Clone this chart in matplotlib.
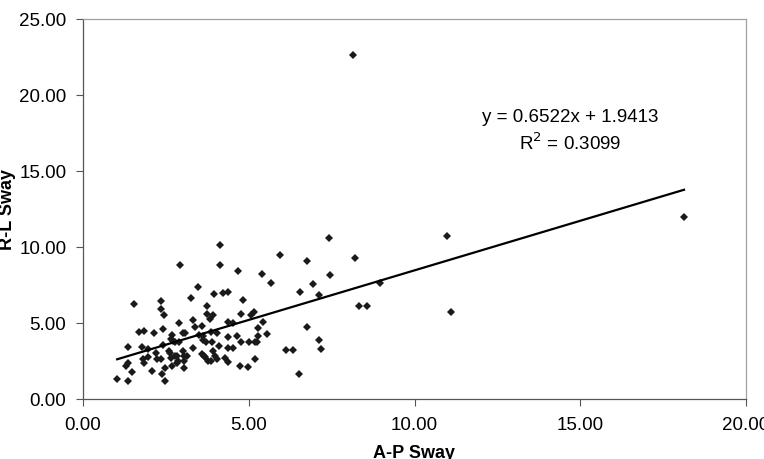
import numpy as np
import matplotlib
matplotlib.use("Agg")
import matplotlib.pyplot as plt

plt.rcParams['font.family'] = ['Liberation Sans', 'DejaVu Sans']

# A-P sway (x) and R-L sway (y)
ap_sway = [1.03, 1.37, 1.47, 1.30, 1.37, 1.37, 1.54, 1.70, 1.85, 1.77,
           1.82, 1.84, 1.97, 2.07, 2.14, 2.20, 2.24, 2.34, 2.35, 2.35,
           2.45, 2.42, 2.42, 2.37, 2.47, 2.48, 2.60, 2.62, 2.68, 2.68,
           2.78, 2.83, 2.89, 2.93, 2.91, 2.83, 3.01, 3.05, 3.05, 3.13,
           3.31, 3.26, 3.33, 3.38, 3.46, 3.51, 3.58, 3.63, 3.65, 3.71,
           3.73, 3.75, 3.83, 3.85, 3.91, 3.93, 3.95, 3.98, 4.03, 4.05,
           4.11, 4.14, 4.14, 4.21, 4.27, 4.36, 4.38, 4.38, 4.38, 4.38,
           4.52, 4.53, 4.64, 4.67, 4.77, 4.77, 4.82, 4.74, 4.99, 5.02,
           5.06, 5.16, 5.18, 5.24, 5.19, 5.27, 5.29, 5.42, 5.39, 5.56,
           5.67, 5.94, 6.11, 6.33, 6.55, 6.53, 6.75, 6.75, 6.95, 7.13,
           7.13, 7.17, 7.43, 7.45, 8.20, 8.32, 8.58, 8.96,
           8.14, 10.99, 11.10, 18.13,
           3.86, 1.97, 3.03, 2.65, 2.72, 2.65, 2.78, 2.86, 3.06, 3.60,
           3.68, 3.78, 3.88, 3.63, 3.07]
rl_sway = [1.32, 1.21, 1.80, 2.15, 2.37, 3.40, 6.25, 4.39, 4.47, 3.40,
           2.63, 2.35, 2.74, 1.86, 4.32, 3.03, 2.63, 2.63, 6.45, 5.92,
           5.55, 4.61, 3.57, 1.62, 2.02, 1.21, 3.18, 3.00, 2.15, 4.21,
           3.77, 2.85, 5.00, 8.82, 3.77, 2.35, 4.34, 2.52, 2.02, 2.85,
           3.33, 6.62, 5.22, 4.72, 7.35, 4.21, 4.82, 3.90, 2.85, 3.73,
           6.10, 5.59, 5.26, 2.52, 5.53, 3.18, 6.91, 2.85, 4.34, 2.63,
           3.51, 10.13, 8.84, 6.95, 2.68, 7.06, 5.09, 4.06, 3.34, 2.46,
           5.00, 3.34, 4.12, 8.40, 3.77, 5.57, 6.53, 2.15, 2.08, 3.73,
           5.55, 5.70, 3.73, 3.73, 2.61, 4.16, 4.67, 5.09, 8.20, 4.28,
           7.63, 9.47, 3.24, 3.20, 7.02, 1.64, 9.06, 4.76, 7.57, 6.86,
           3.90, 3.29, 10.57, 8.14, 9.28, 6.14, 6.10, 7.63,
           22.60, 10.72, 5.72, 11.97,
           4.43, 3.29, 3.18, 3.95, 3.84, 2.68, 2.80, 2.52, 2.80, 2.96,
           2.74, 2.52, 3.73, 4.17, 4.34]

slope = 0.6522
intercept = 1.9413
r_squared = 0.3099

x_ticks = [0, 5, 10, 15, 20]
y_ticks = [0, 5, 10, 15, 20, 25]

fig = plt.figure(figsize=(7.64, 4.60), dpi=100)
ax = fig.add_axes([83 / 764, 1 - 400 / 460, (746 - 83) / 764, (400 - 20) / 460])

ax.plot(ap_sway, rl_sway, linestyle='none', marker='D', markersize=4.3,
        color='#1a1a1a', markeredgewidth=0)

xs = np.array([min(ap_sway), max(ap_sway)])
ax.plot(xs, slope * xs + intercept, color='black', linewidth=1.6)

ax.text(14.69, 18.6, f"y = {slope:.4f}x + {intercept:.4f}", ha='center', va='center', fontsize=13.5)
ax.text(14.69, 16.9, f"R$^{{2}}$ = {r_squared:.4f}", ha='center', va='center', fontsize=13.5)

ax.set_xlim(0, 20)
ax.set_ylim(0, 25)
ax.set_xticks(x_ticks)
ax.set_yticks(y_ticks)
ax.set_xticklabels([f"{v:.2f}" for v in x_ticks])
ax.set_yticklabels([f"{v:.2f}" for v in y_ticks])
ax.tick_params(axis='both', direction='out', length=5, width=0.8, color='#555555',
               labelsize=13.5, labelcolor='black')
ax.tick_params(axis='x', pad=7)
ax.tick_params(axis='y', pad=7)

for side in ['left', 'bottom']:
    ax.spines[side].set_color('#555555')
    ax.spines[side].set_linewidth(0.9)
for side in ['top', 'right']:
    ax.spines[side].set_color('#a0a0a0')
    ax.spines[side].set_linewidth(0.9)

fig.text(414.5 / 764, 1 - 454 / 460, "A-P Sway", ha='center', va='center',
         fontsize=13, fontweight='bold')
fig.text(8 / 764, 1 - 210 / 460, "R-L Sway", ha='center', va='center',
         rotation=90, fontsize=13, fontweight='bold')

fig.savefig("out.png", dpi=100)
